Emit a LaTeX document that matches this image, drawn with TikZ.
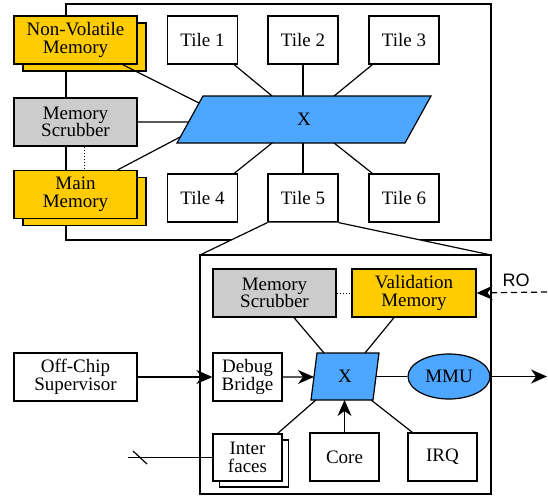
\documentclass[tikz,border=0pt]{standalone}
\usepackage{fontspec}
\setmainfont{Liberation Serif}
\newfontfamily\rofont{Liberation Sans}
\usetikzlibrary{arrows.meta,shapes.geometric,calc}
\definecolor{yel}{RGB}{255,204,0}
\definecolor{gry}{RGB}{204,204,204}
\definecolor{blu}{RGB}{77,166,255}
\begin{document}
\begin{tikzpicture}[x=1pt,y=-1pt,line width=1.2pt,line join=miter,
  txt/.style={font=\fontsize{19}{17.5}\selectfont},
  box/.style={draw,fill=white,minimum width=#1,minimum height=48pt,inner sep=0pt,align=center,txt},
  box/.default=70pt,
  ybox/.style={box=#1,fill=yel},
  ybox/.default=123pt,
  gbox/.style={box=#1,fill=gry},
  gbox/.default=123pt,
  xshape/.style={draw,fill=blu},
  arr/.style={-{Stealth[length=16pt,width=14pt,inset=5pt]}},
  link/.style={draw}]
\useasboundingbox (0,0) rectangle (548,498);

% outer chip box
\node[draw,minimum width=425pt,minimum height=236pt,inner sep=0pt] (chip) at (278.5,122) {};

% left memories
\node[ybox] (nvmS) at (84.5,47) {};
\node[ybox] (nvm) at (75.5,40) {Non-Volatile\\Memory};
\node[gbox] (scrub) at (75.5,122) {Memory\\Scrubber};
\node[ybox] (mainS) at (84.5,201.5) {};
\node[ybox] (main) at (75.5,194.5) {Main\\Memory};
\draw[dotted,line width=1pt] ([xshift=9]scrub.south) -- ([xshift=9]main.north);

% tiles
\node[box] (t1) at (202.5,40) {Tile 1};
\node[box] (t2) at (303,40) {Tile 2};
\node[box] (t3) at (404,40) {Tile 3};
\node[box] (t4) at (202.5,198) {Tile 4};
\node[box] (t5) at (303,198) {Tile 5};
\node[box] (t6) at (404,198) {Tile 6};

% top crossbar
\coordinate (XtTL) at (203,96);
\coordinate (XtTR) at (431,96);
\coordinate (XtBR) at (405,143);
\coordinate (XtBL) at (177,143);
\filldraw[xshape] (XtTL) -- (XtTR) -- (XtBR) -- (XtBL) -- cycle;
\node[txt] (X1) at (304,119.5) {X};

\draw ([xshift=-15]nvm.south east) -- ($(XtTL)!0.15!(XtBL)$);
\draw (scrub.east) -- ($(XtTL)!0.553!(XtBL)$);
\draw ([xshift=-20]main.north east) -- ($(XtTL)!0.87!(XtBL)$);
\draw ([xshift=-4]t1.south east) -- ($(XtTL)!0.303!(XtTR)$);
\draw (t2.south) -- (t2.south |- XtTL);
\draw ([xshift=4]t3.south west) -- ($(XtTL)!0.575!(XtTR)$);
\draw ([xshift=-4]t4.north east) -- ($(XtBL)!0.417!(XtBR)$);
\draw (t5.north) -- (t5.north |- XtBL);
\draw ([xshift=4]t6.north west) -- ($(XtBL)!0.689!(XtBR)$);

% zoom trapezoid
\coordinate (zl) at (200,255);
\coordinate (zr) at (491,255);
\fill[white] (t5.south west) -- (zl) -- (zr) -- (t5.south east) -- cycle;
\draw (t5.south west) -- (zl);
\draw (t5.south east) -- (zr);

% tile detail box
\node[draw,minimum width=291pt,minimum height=239pt,inner sep=0pt] (tile) at (345.5,374.5) {};

\node[gbox] (scrub2) at (274.5,293) {Memory\\Scrubber};
\node[ybox=124pt] (valid) at (414,293) {Validation\\Memory};
\draw[dotted,line width=1pt] (scrub2.east) -- (valid.west);

\node[box=69pt] (debug) at (247.5,377) {Debug\\Bridge};
\node[box=123pt] (off) at (75.5,377) {Off-Chip\\Supervisor};

\coordinate (XbTL) at (317,353);
\coordinate (XbTR) at (379,353);
\coordinate (XbBR) at (373,400);
\coordinate (XbBL) at (311,400);
\filldraw[xshape] (XbTL) -- (XbTR) -- (XbBR) -- (XbBL) -- cycle;
\node[txt] (X2) at (345,376.5) {X};

\node[draw,fill=blu,ellipse,minimum width=82pt,minimum height=45pt,inner sep=0pt,txt] (mmu) at (449,376.5) {MMU};

\node[box=69pt,minimum height=47pt] (interS) at (254,463.5) {};
\node[box=69pt,minimum height=47pt] (inter) at (247.5,457.5) {Inter\\faces};
\node[box=69pt] (core) at (344.5,457) {Core};
\node[box=69pt] (irq) at (442.5,457) {IRQ};

% bottom connectors
\draw[arr] (off.east) -- (debug.west);
\draw[arr] (debug.east) -- ($(XbTL)!0.51!(XbBL)$);
\draw ($(XbTR)!0.5!(XbBR)$) -- (mmu.west);
\coordinate (mmuout) at (547,376.5);
\draw[arr] (mmu.east) -- (mmuout);
\draw[arr] (core.north) -- (core.north |- XbBL);
\draw ([xshift=19.5]scrub2.south) -- ($(XbTL)!0.113!(XbTR)$);
\draw ([xshift=-20]valid.south) -- ($(XbTL)!0.774!(XbTR)$);
\draw ([xshift=-5]inter.north east) -- ($(XbBL)!0.08!(XbBR)$);
\draw ([xshift=5]irq.north west) -- ($(XbBL)!0.97!(XbBR)$);

\coordinate (roin) at (547,292);
\draw[arr,dashed,dash pattern=on 6pt off 4pt] (roin) -- (valid.east);
\node[font=\rofont\fontsize{18}{18}\selectfont,inner sep=0pt] (ro) at (516,280) {RO};

\coordinate (ifin) at (128,457.5);
\draw (ifin) -- (inter.west);
\coordinate (sl1) at (133,451);
\coordinate (sl2) at (147,464);
\draw (sl1) -- (sl2);
\end{tikzpicture}
\end{document}
